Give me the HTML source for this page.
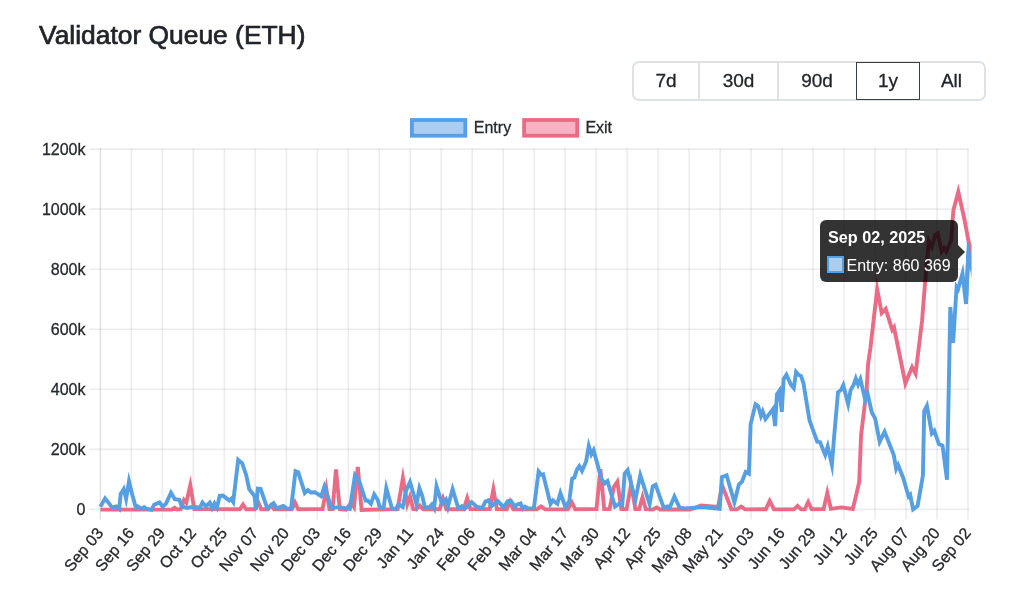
<!DOCTYPE html>
<html><head><meta charset="utf-8">
<style>
html,body{margin:0;padding:0;background:#fff;}
body{width:1024px;height:598px;overflow:hidden;position:relative;font-family:"Liberation Sans",sans-serif;color:#212529;}
.title{position:absolute;left:39px;top:20px;font-size:26.4px;font-weight:normal;-webkit-text-stroke:0.7px #212529;white-space:nowrap;line-height:30px;}
.btns{position:absolute;left:632.3px;top:60.8px;width:353.6px;height:39.6px;box-sizing:border-box;border:2px solid #dfe2e5;border-radius:7px;}
.b{position:absolute;top:0;height:35px;line-height:35px;text-align:center;font-size:19px;color:#212529;-webkit-text-stroke:0.3px #212529;box-sizing:border-box;}
.sep{position:absolute;top:0;width:1.5px;height:100%;background:#dfe2e5;}
.act{position:absolute;left:222px;top:-1.2px;width:64px;height:38px;border:1.7px solid #3a3f44;box-sizing:border-box;}
svg{position:absolute;left:0;top:0;will-change:transform;}
.title,.btns,.tip{will-change:transform;}
.ax{font-size:16px;fill:#26292d;stroke:#26292d;stroke-width:0.3px;}
.xl{font-size:16px;fill:#26292d;stroke:#26292d;stroke-width:0.3px;}
.lg{font-size:16px;fill:#26292d;stroke:#26292d;stroke-width:0.3px;}
.tip{position:absolute;left:819.6px;top:220px;width:138.4px;height:62px;background:rgba(0,0,0,0.8);border-radius:6px;}
.tip:after{content:"";position:absolute;right:-7px;top:24.5px;border-top:7px solid transparent;border-bottom:7px solid transparent;border-left:7px solid rgba(0,0,0,0.8);}
.tt{position:absolute;left:8px;top:6.8px;color:#fff;font-weight:bold;font-size:16.2px;white-space:nowrap;line-height:20px;}
.tl{position:absolute;left:26.5px;top:36px;color:#fff;font-size:16px;white-space:nowrap;line-height:20px;}
.tb{position:absolute;left:7px;top:36.2px;width:17.4px;height:17.3px;box-sizing:border-box;background:#aacdf1;border:2px solid #559fe2;}
</style></head><body>
<div class="title">Validator Queue (ETH)</div>
<div class="btns">
<div class="b" style="left:0;width:64px">7d</div>
<div class="sep" style="left:64px"></div>
<div class="b" style="left:65px;width:79px">30d</div>
<div class="sep" style="left:143px"></div>
<div class="b" style="left:144px;width:78px">90d</div>
<div class="b" style="left:222px;width:64px">1y</div>
<div class="b" style="left:286px;width:63px">All</div>
<div class="act"></div>
</div>
<svg width="1024" height="598" viewBox="0 0 1024 598">
<line x1="89.5" y1="509.40" x2="968.9" y2="509.40" stroke="rgba(0,0,0,0.075)" stroke-width="1.6"/>
<line x1="89.5" y1="449.35" x2="968.9" y2="449.35" stroke="rgba(0,0,0,0.075)" stroke-width="1.6"/>
<line x1="89.5" y1="389.30" x2="968.9" y2="389.30" stroke="rgba(0,0,0,0.075)" stroke-width="1.6"/>
<line x1="89.5" y1="329.25" x2="968.9" y2="329.25" stroke="rgba(0,0,0,0.075)" stroke-width="1.6"/>
<line x1="89.5" y1="269.20" x2="968.9" y2="269.20" stroke="rgba(0,0,0,0.075)" stroke-width="1.6"/>
<line x1="89.5" y1="209.15" x2="968.9" y2="209.15" stroke="rgba(0,0,0,0.075)" stroke-width="1.6"/>
<line x1="89.5" y1="149.10" x2="968.9" y2="149.10" stroke="rgba(0,0,0,0.075)" stroke-width="1.6"/>
<line x1="100.40" y1="148.6" x2="100.40" y2="519.6" stroke="rgba(0,0,0,0.075)" stroke-width="1.6"/>
<line x1="131.38" y1="148.6" x2="131.38" y2="519.6" stroke="rgba(0,0,0,0.075)" stroke-width="1.6"/>
<line x1="162.37" y1="148.6" x2="162.37" y2="519.6" stroke="rgba(0,0,0,0.075)" stroke-width="1.6"/>
<line x1="193.36" y1="148.6" x2="193.36" y2="519.6" stroke="rgba(0,0,0,0.075)" stroke-width="1.6"/>
<line x1="224.34" y1="148.6" x2="224.34" y2="519.6" stroke="rgba(0,0,0,0.075)" stroke-width="1.6"/>
<line x1="255.33" y1="148.6" x2="255.33" y2="519.6" stroke="rgba(0,0,0,0.075)" stroke-width="1.6"/>
<line x1="286.31" y1="148.6" x2="286.31" y2="519.6" stroke="rgba(0,0,0,0.075)" stroke-width="1.6"/>
<line x1="317.29" y1="148.6" x2="317.29" y2="519.6" stroke="rgba(0,0,0,0.075)" stroke-width="1.6"/>
<line x1="348.28" y1="148.6" x2="348.28" y2="519.6" stroke="rgba(0,0,0,0.075)" stroke-width="1.6"/>
<line x1="379.26" y1="148.6" x2="379.26" y2="519.6" stroke="rgba(0,0,0,0.075)" stroke-width="1.6"/>
<line x1="410.25" y1="148.6" x2="410.25" y2="519.6" stroke="rgba(0,0,0,0.075)" stroke-width="1.6"/>
<line x1="441.24" y1="148.6" x2="441.24" y2="519.6" stroke="rgba(0,0,0,0.075)" stroke-width="1.6"/>
<line x1="472.22" y1="148.6" x2="472.22" y2="519.6" stroke="rgba(0,0,0,0.075)" stroke-width="1.6"/>
<line x1="503.21" y1="148.6" x2="503.21" y2="519.6" stroke="rgba(0,0,0,0.075)" stroke-width="1.6"/>
<line x1="534.19" y1="148.6" x2="534.19" y2="519.6" stroke="rgba(0,0,0,0.075)" stroke-width="1.6"/>
<line x1="565.17" y1="148.6" x2="565.17" y2="519.6" stroke="rgba(0,0,0,0.075)" stroke-width="1.6"/>
<line x1="596.16" y1="148.6" x2="596.16" y2="519.6" stroke="rgba(0,0,0,0.075)" stroke-width="1.6"/>
<line x1="627.14" y1="148.6" x2="627.14" y2="519.6" stroke="rgba(0,0,0,0.075)" stroke-width="1.6"/>
<line x1="658.13" y1="148.6" x2="658.13" y2="519.6" stroke="rgba(0,0,0,0.075)" stroke-width="1.6"/>
<line x1="689.12" y1="148.6" x2="689.12" y2="519.6" stroke="rgba(0,0,0,0.075)" stroke-width="1.6"/>
<line x1="720.10" y1="148.6" x2="720.10" y2="519.6" stroke="rgba(0,0,0,0.075)" stroke-width="1.6"/>
<line x1="751.08" y1="148.6" x2="751.08" y2="519.6" stroke="rgba(0,0,0,0.075)" stroke-width="1.6"/>
<line x1="782.07" y1="148.6" x2="782.07" y2="519.6" stroke="rgba(0,0,0,0.075)" stroke-width="1.6"/>
<line x1="813.05" y1="148.6" x2="813.05" y2="519.6" stroke="rgba(0,0,0,0.075)" stroke-width="1.6"/>
<line x1="844.04" y1="148.6" x2="844.04" y2="519.6" stroke="rgba(0,0,0,0.075)" stroke-width="1.6"/>
<line x1="875.02" y1="148.6" x2="875.02" y2="519.6" stroke="rgba(0,0,0,0.075)" stroke-width="1.6"/>
<line x1="906.01" y1="148.6" x2="906.01" y2="519.6" stroke="rgba(0,0,0,0.075)" stroke-width="1.6"/>
<line x1="937.00" y1="148.6" x2="937.00" y2="519.6" stroke="rgba(0,0,0,0.075)" stroke-width="1.6"/>
<line x1="967.98" y1="148.6" x2="967.98" y2="519.6" stroke="rgba(0,0,0,0.075)" stroke-width="1.6"/>
<line x1="100.40" y1="148.6" x2="100.40" y2="519.6" stroke="rgba(0,0,0,0.06)" stroke-width="1.2"/>
<text x="85.5" y="509.40" text-anchor="end" dominant-baseline="central" class="ax">0</text>
<text x="85.5" y="449.35" text-anchor="end" dominant-baseline="central" class="ax">200k</text>
<text x="85.5" y="389.30" text-anchor="end" dominant-baseline="central" class="ax">400k</text>
<text x="85.5" y="329.25" text-anchor="end" dominant-baseline="central" class="ax">600k</text>
<text x="85.5" y="269.20" text-anchor="end" dominant-baseline="central" class="ax">800k</text>
<text x="85.5" y="209.15" text-anchor="end" dominant-baseline="central" class="ax">1000k</text>
<text x="85.5" y="149.10" text-anchor="end" dominant-baseline="central" class="ax">1200k</text>
<text transform="translate(99.90,530) rotate(-50)" text-anchor="end" dominant-baseline="central" class="xl">Sep 03</text>
<text transform="translate(130.88,530) rotate(-50)" text-anchor="end" dominant-baseline="central" class="xl">Sep 16</text>
<text transform="translate(161.87,530) rotate(-50)" text-anchor="end" dominant-baseline="central" class="xl">Sep 29</text>
<text transform="translate(192.86,530) rotate(-50)" text-anchor="end" dominant-baseline="central" class="xl">Oct 12</text>
<text transform="translate(223.84,530) rotate(-50)" text-anchor="end" dominant-baseline="central" class="xl">Oct 25</text>
<text transform="translate(254.83,530) rotate(-50)" text-anchor="end" dominant-baseline="central" class="xl">Nov 07</text>
<text transform="translate(285.81,530) rotate(-50)" text-anchor="end" dominant-baseline="central" class="xl">Nov 20</text>
<text transform="translate(316.79,530) rotate(-50)" text-anchor="end" dominant-baseline="central" class="xl">Dec 03</text>
<text transform="translate(347.78,530) rotate(-50)" text-anchor="end" dominant-baseline="central" class="xl">Dec 16</text>
<text transform="translate(378.76,530) rotate(-50)" text-anchor="end" dominant-baseline="central" class="xl">Dec 29</text>
<text transform="translate(409.75,530) rotate(-50)" text-anchor="end" dominant-baseline="central" class="xl">Jan 11</text>
<text transform="translate(440.74,530) rotate(-50)" text-anchor="end" dominant-baseline="central" class="xl">Jan 24</text>
<text transform="translate(471.72,530) rotate(-50)" text-anchor="end" dominant-baseline="central" class="xl">Feb 06</text>
<text transform="translate(502.71,530) rotate(-50)" text-anchor="end" dominant-baseline="central" class="xl">Feb 19</text>
<text transform="translate(533.69,530) rotate(-50)" text-anchor="end" dominant-baseline="central" class="xl">Mar 04</text>
<text transform="translate(564.67,530) rotate(-50)" text-anchor="end" dominant-baseline="central" class="xl">Mar 17</text>
<text transform="translate(595.66,530) rotate(-50)" text-anchor="end" dominant-baseline="central" class="xl">Mar 30</text>
<text transform="translate(626.64,530) rotate(-50)" text-anchor="end" dominant-baseline="central" class="xl">Apr 12</text>
<text transform="translate(657.63,530) rotate(-50)" text-anchor="end" dominant-baseline="central" class="xl">Apr 25</text>
<text transform="translate(688.62,530) rotate(-50)" text-anchor="end" dominant-baseline="central" class="xl">May 08</text>
<text transform="translate(719.60,530) rotate(-50)" text-anchor="end" dominant-baseline="central" class="xl">May 21</text>
<text transform="translate(750.58,530) rotate(-50)" text-anchor="end" dominant-baseline="central" class="xl">Jun 03</text>
<text transform="translate(781.57,530) rotate(-50)" text-anchor="end" dominant-baseline="central" class="xl">Jun 16</text>
<text transform="translate(812.55,530) rotate(-50)" text-anchor="end" dominant-baseline="central" class="xl">Jun 29</text>
<text transform="translate(843.54,530) rotate(-50)" text-anchor="end" dominant-baseline="central" class="xl">Jul 12</text>
<text transform="translate(874.52,530) rotate(-50)" text-anchor="end" dominant-baseline="central" class="xl">Jul 25</text>
<text transform="translate(905.51,530) rotate(-50)" text-anchor="end" dominant-baseline="central" class="xl">Aug 07</text>
<text transform="translate(936.50,530) rotate(-50)" text-anchor="end" dominant-baseline="central" class="xl">Aug 20</text>
<text transform="translate(967.48,530) rotate(-50)" text-anchor="end" dominant-baseline="central" class="xl">Sep 02</text>
<defs><clipPath id="ca"><rect x="0" y="0" width="971.6" height="598"/></clipPath></defs>
<polyline clip-path="url(#ca)" fill="none" stroke="#e96b86" stroke-width="3.9" stroke-linejoin="miter" stroke-miterlimit="10" points="100.4,509.6 172.0,509.5 174.6,507.9 177.1,509.4 180.7,509.2 184.0,500.0 186.3,502.6 190.3,485.2 194.3,509.1 239.9,509.3 243.0,504.6 246.1,509.3 254.8,509.3 258.0,501.8 261.2,509.3 267.9,509.3 271.0,505.3 274.1,509.3 291.8,509.3 295.0,502.6 298.2,509.3 322.6,509.1 326.3,488.8 329.4,509.0 332.6,509.1 336.0,469.4 339.8,509.2 345.9,509.7 351.2,502.6 354.0,507.0 357.8,467.0 361.6,509.9 366.5,509.7 397.6,509.1 402.9,477.9 407.3,504.2 410.0,496.7 413.3,509.2 416.4,509.3 419.7,505.4 423.1,509.3 439.7,509.2 443.0,498.7 446.3,509.2 463.7,509.2 467.2,498.2 470.4,509.1 489.6,509.1 493.4,489.3 496.9,509.1 506.8,509.2 510.0,501.7 513.2,509.3 536.9,509.4 541.0,506.5 545.1,509.4 567.8,509.3 571.9,502.5 575.2,509.3 596.5,509.1 600.4,469.3 604.2,509.1 609.6,509.1 613.8,486.9 617.3,481.8 621.4,509.1 626.6,509.1 631.2,484.3 635.4,509.1 639.2,509.1 642.5,497.3 645.8,509.2 653.0,509.5 656.7,507.4 660.0,509.5 690.0,509.5 701.0,505.6 718.2,506.9 722.0,485.2 725.9,495.0 731.4,509.3 736.9,509.4 741.2,506.6 745.1,509.4 765.8,509.3 769.7,501.0 774.0,509.3 793.9,509.4 797.6,505.9 801.1,509.4 804.8,509.3 808.2,502.0 811.7,509.3 823.6,509.1 827.3,492.9 830.9,508.9 841.3,507.4 852.8,509.0 856.9,492.0 859.2,482.0 861.1,435.0 864.8,404.4 866.4,393.0 868.1,364.0 870.4,348.0 877.2,289.2 881.7,313.0 885.7,309.0 892.2,329.8 894.0,327.3 905.4,383.5 912.1,367.1 915.6,373.7 922.1,320.2 925.3,280.0 928.9,241.1 931.9,246.9 935.4,234.5 937.8,233.3 941.6,251.4 944.2,248.0 946.3,251.7 949.4,244.3 951.2,240.3 953.4,210.2 958.3,191.8 964.2,218.2 968.7,242.0 974.0,260.0"/>
<polyline clip-path="url(#ca)" fill="none" stroke="#559fe2" stroke-width="3.9" stroke-linejoin="miter" stroke-miterlimit="10" points="100.4,506.7 105.1,498.4 112.1,507.5 116.2,506.3 119.2,508.8 120.7,494.0 123.7,489.2 126.1,498.9 129.0,481.3 132.1,494.0 135.8,507.5 137.6,506.4 141.0,508.7 144.0,507.3 147.0,508.9 151.6,509.8 154.1,504.7 159.5,502.4 162.6,506.6 165.9,503.9 171.0,492.8 174.8,499.3 179.4,499.9 181.9,506.5 187.4,507.9 193.0,506.8 199.8,507.6 202.5,502.5 205.9,506.5 209.8,502.6 212.2,508.1 214.5,503.4 216.9,507.6 219.7,495.8 222.9,495.6 229.2,500.4 231.2,498.7 233.2,501.8 238.2,459.9 242.2,463.3 246.3,475.5 249.2,489.2 254.5,496.0 256.0,509.7 257.8,488.6 260.6,488.8 267.2,508.2 270.4,505.7 273.6,503.2 276.7,508.3 283.3,505.9 287.5,508.8 291.1,508.5 295.5,471.2 298.2,472.3 304.8,492.9 307.9,490.0 310.8,492.4 314.8,492.2 321.2,496.2 324.4,486.6 331.5,507.9 339.4,507.1 349.8,509.0 355.0,475.3 359.1,481.0 365.6,500.6 367.6,500.5 370.9,503.8 374.2,494.5 377.9,500.2 379.7,507.3 383.6,507.7 386.3,488.1 391.9,508.2 395.6,509.2 398.7,504.5 402.8,507.0 406.1,490.6 410.0,482.0 416.5,504.3 419.4,488.1 422.3,496.0 424.9,507.7 429.9,506.8 431.9,504.5 434.1,508.2 436.5,486.1 442.0,503.6 445.9,499.4 447.9,506.8 452.6,489.1 458.4,508.5 461.9,506.2 464.8,508.9 471.6,502.2 477.1,506.9 482.3,507.9 485.4,501.6 488.5,500.3 491.7,505.9 497.6,501.0 503.1,506.7 504.1,506.7 507.6,501.3 510.8,500.7 515.0,507.1 516.8,504.7 520.6,503.5 522.8,508.7 525.1,506.6 528.4,508.5 533.9,508.2 538.6,471.6 541.1,474.8 543.1,474.3 550.5,504.0 552.9,500.4 557.3,503.8 560.4,493.0 565.4,507.0 569.3,501.1 572.1,478.7 574.3,477.6 577.0,469.3 579.3,466.1 582.0,470.9 586.0,461.8 588.8,445.8 591.4,454.3 593.6,450.2 601.3,478.5 604.6,483.4 607.5,481.1 615.0,506.5 619.6,503.3 622.2,505.1 624.7,473.5 627.6,470.1 635.3,500.1 640.3,475.2 645.1,490.2 649.6,504.1 652.8,486.2 655.6,484.7 663.7,507.8 667.6,506.4 669.8,507.6 674.4,496.6 679.5,507.6 685.2,508.5 701.9,507.1 719.7,508.8 721.9,477.1 726.6,475.3 734.4,502.2 738.9,484.5 741.9,481.8 745.7,472.0 748.9,473.6 750.6,424.4 752.4,416.9 755.5,404.2 758.2,406.1 760.9,415.9 762.7,411.4 765.4,419.0 771.7,410.9 773.1,409.0 775.1,426.1 776.9,394.3 779.5,390.5 781.8,411.9 783.6,379.2 786.4,374.8 791.1,385.0 793.8,388.2 796.1,372.0 798.7,375.0 801.0,376.0 803.5,383.4 809.5,420.3 817.2,441.7 820.1,442.2 825.2,454.9 827.7,446.4 831.9,464.8 834.2,435.9 838.0,392.3 841.0,390.0 843.3,385.2 848.1,404.1 850.6,390.1 853.7,384.7 855.8,378.5 858.1,384.6 860.4,379.2 865.3,400.1 867.7,394.1 871.8,412.5 875.1,418.4 879.7,441.7 884.6,431.8 893.7,454.7 896.2,468.9 898.1,465.0 903.1,477.7 908.6,496.5 910.2,494.8 913.1,509.3 917.6,505.8 922.9,475.6 924.2,410.9 926.9,405.7 931.8,433.3 934.3,430.6 938.9,444.1 942.5,445.6 947.0,479.8 950.3,307.0 953.1,343.0 956.6,287.0 958.1,289.2 962.5,273.4 966.0,304.0 968.4,251.0"/>
<polyline clip-path="url(#ca)" fill="none" stroke="#559fe2" stroke-width="3.9" stroke-linejoin="miter" stroke-miterlimit="30" points="966,304 968.4,252 974,279"/>
<rect x="411.9" y="120" width="53.4" height="15.7" fill="#aacdf1" stroke="#559fe2" stroke-width="3.8"/>
<text x="473.8" y="132.8" class="lg">Entry</text>
<rect x="524.1" y="120" width="53.1" height="15.7" fill="#f6b4c3" stroke="#e96b86" stroke-width="3.8"/>
<text x="585.4" y="132.8" class="lg">Exit</text>
</svg>
<div class="tip"><div class="tt">Sep 02, 2025</div><div class="tb"></div><div class="tl">Entry: 860 369</div></div>
</body></html>
